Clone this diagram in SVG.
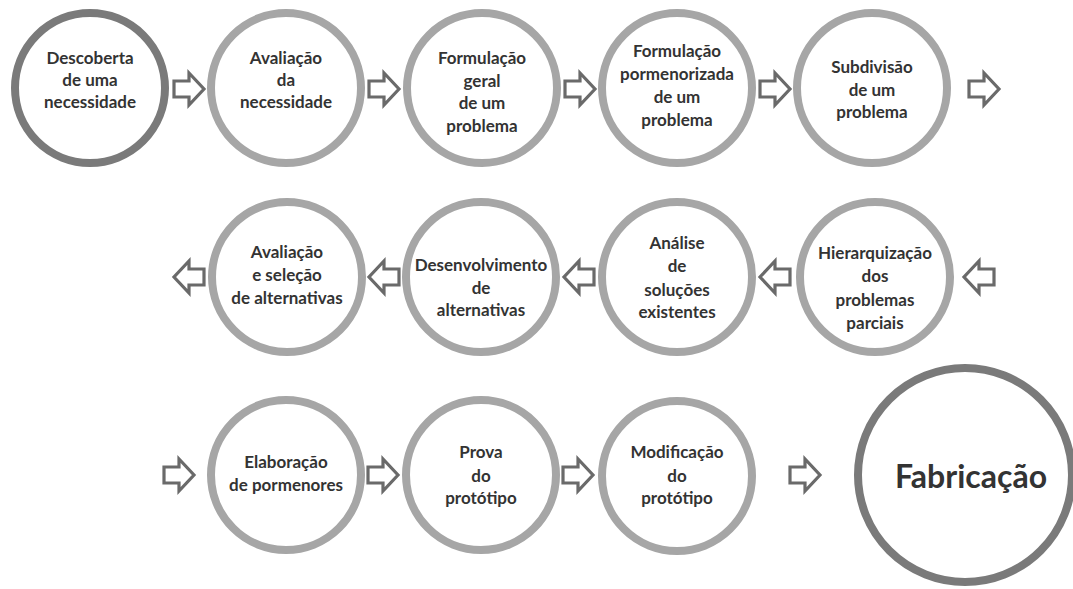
<svg xmlns="http://www.w3.org/2000/svg" width="1073" height="589" viewBox="0 0 1073 589">
<style>
.ring{fill:#fff;stroke:#a6a6a6;stroke-width:8}
.dark{stroke:#7a7a7a}
.t{font-family:Lato,"Open Sans","Liberation Sans",sans-serif;font-weight:bold;font-size:17px;fill:#333;text-anchor:middle}
.big{font-size:32px}
.arr{fill:#fff;stroke:#6a6a6a;stroke-width:3.2;stroke-linejoin:miter}
</style>
<defs>
<path id="ar" class="arr" d="M-15,-8 H0 V-16 L15,0 L0,16 V8 H-15 Z"/>
<path id="al" class="arr" d="M15,-8 H0 V-16 L-15,0 L0,16 V8 H15 Z"/>
</defs>
<rect width="1073" height="589" fill="#fff"/>
<g id="connectors">
<use href="#ar" x="189" y="89"/>
<use href="#ar" x="384" y="89"/>
<use href="#ar" x="580" y="89"/>
<use href="#ar" x="775" y="89"/>
<use href="#ar" x="984" y="89"/>
<use href="#al" x="979" y="277"/>
<use href="#al" x="775" y="277"/>
<use href="#al" x="579" y="277"/>
<use href="#al" x="384" y="277"/>
<use href="#al" x="189" y="277"/>
<use href="#ar" x="179" y="475"/>
<use href="#ar" x="383" y="475"/>
<use href="#ar" x="578" y="475"/>
<use href="#ar" x="805" y="475"/>
</g>
<g id="n1"><circle class="ring dark" cx="90" cy="88" r="75"/><text class="t" x="90"><tspan x="90" y="64">Descoberta</tspan><tspan x="90" y="86">de uma</tspan><tspan x="90" y="108">necessidade</tspan></text></g>
<g id="n2"><circle class="ring" cx="286" cy="88" r="75"/><text class="t"><tspan x="286" y="64">Avaliação</tspan><tspan x="286" y="86">da</tspan><tspan x="286" y="108">necessidade</tspan></text></g>
<g id="n3"><circle class="ring" cx="482" cy="88" r="75"/><text class="t"><tspan x="482" y="64">Formulação</tspan><tspan x="482" y="87">geral</tspan><tspan x="482" y="109">de um</tspan><tspan x="482" y="132">problema</tspan></text></g>
<g id="n4"><circle class="ring" cx="677" cy="88" r="75"/><text class="t"><tspan x="677" y="57">Formulação</tspan><tspan x="677" y="80">pormenorizada</tspan><tspan x="677" y="103">de um</tspan><tspan x="677" y="126">problema</tspan></text></g>
<g id="n5"><circle class="ring" cx="872" cy="88" r="75"/><text class="t"><tspan x="872" y="73">Subdivisão</tspan><tspan x="872" y="96">de um</tspan><tspan x="872" y="118">problema</tspan></text></g>
<g id="n6"><circle class="ring" cx="875" cy="277" r="75"/><text class="t"><tspan x="875" y="259">Hierarquização</tspan><tspan x="875" y="282">dos</tspan><tspan x="875" y="306">problemas</tspan><tspan x="875" y="329">parciais</tspan></text></g>
<g id="n7"><circle class="ring" cx="677" cy="277" r="75"/><text class="t"><tspan x="677" y="249">Análise</tspan><tspan x="677" y="272">de</tspan><tspan x="677" y="296">soluções</tspan><tspan x="677" y="318">existentes</tspan></text></g>
<g id="n8"><circle class="ring" cx="481" cy="277" r="75"/><text class="t"><tspan x="481" y="271">Desenvolvimento</tspan><tspan x="481" y="294">de</tspan><tspan x="481" y="316">alternativas</tspan></text></g>
<g id="n9"><circle class="ring" cx="287" cy="277" r="75"/><text class="t"><tspan x="287" y="258">Avaliação</tspan><tspan x="287" y="281">e seleção</tspan><tspan x="287" y="304">de alternativas</tspan></text></g>
<g id="n10"><circle class="ring" cx="286" cy="475" r="75"/><text class="t"><tspan x="286" y="468">Elaboração</tspan><tspan x="286" y="491">de pormenores</tspan></text></g>
<g id="n11"><circle class="ring" cx="481" cy="475" r="75"/><text class="t"><tspan x="481" y="458">Prova</tspan><tspan x="481" y="482">do</tspan><tspan x="481" y="504">protótipo</tspan></text></g>
<g id="n12"><circle class="ring" cx="677" cy="476" r="75"/><text class="t"><tspan x="677" y="458">Modificação</tspan><tspan x="677" y="482">do</tspan><tspan x="677" y="504">protótipo</tspan></text></g>
<g id="n13"><circle class="ring dark" cx="965" cy="475" r="107" stroke-width="7"/><text class="t big" x="971" y="488">Fabricação</text></g>
</svg>
